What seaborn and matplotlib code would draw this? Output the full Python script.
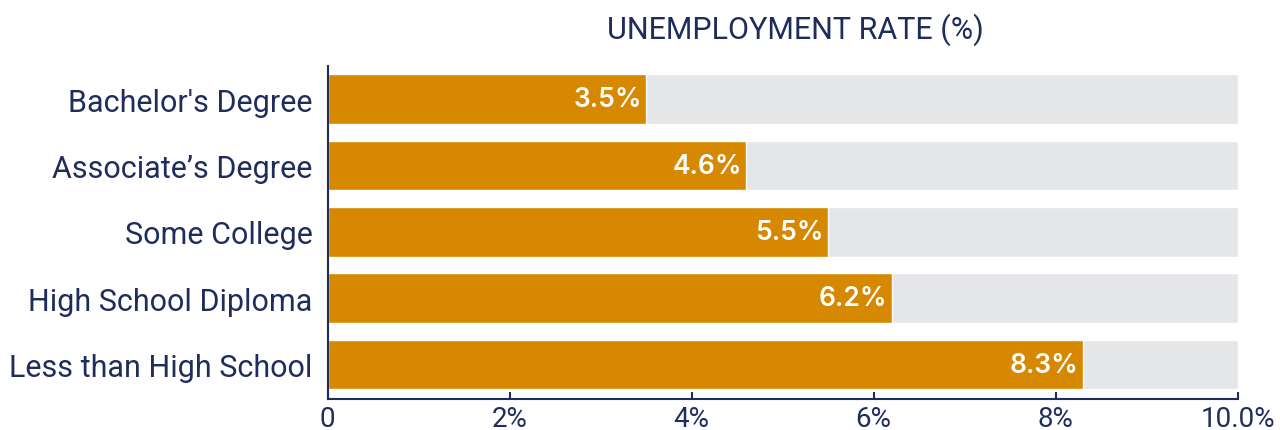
import matplotlib
matplotlib.use("Agg")
import matplotlib.pyplot as plt
import seaborn as sns
import pandas as pd

# ===============================
# Data
# ===============================
categories = [
    "Bachelor's Degree",
    "Associate’s Degree",
    "Some College",
    "High School Diploma",
    "Less than High School",
]
rates = [3.5, 4.6, 5.5, 6.2, 8.3]
axis_max = 10.0
tick_values = [0, 2, 4, 6, 8, 10]
tick_labels = ["0", "2%", "4%", "6%", "8%", "10.0%"]

NAVY = "#1f2d5c"
ORANGE = "#d68800"
TRACK = "#e5e6e8"

df = pd.DataFrame({"education": categories, "rate": rates})
df["track"] = axis_max

sns.set_theme(style="white")
plt.rcParams["font.family"] = ["Roboto", "DejaVu Sans"]

fig = plt.figure(figsize=(12.8, 4.31), dpi=100)
ax = fig.add_axes([0.256, 0.0719, 0.711, 0.7726])

# grey background track, then the value bar on top
sns.barplot(data=df, x="track", y="education", color=TRACK, width=0.75,
            saturation=1, ax=ax)
sns.barplot(data=df, x="rate", y="education", color=ORANGE, width=0.75,
            saturation=1, ax=ax)

for i, v in enumerate(rates):
    ax.text(v - 0.05, i, f"{v:.1f}%", ha="right", va="center",
            color="white", fontsize=19, fontweight="semibold",
            family=["Inter", "DejaVu Sans"])

ax.set_xlim(0, axis_max)
ax.set_ylim(4.52, -0.5)
ax.set_xticks(tick_values)
ax.set_xticklabels(tick_labels)
ax.set_xlabel("")
ax.set_ylabel("")

ax.tick_params(axis="x", colors=NAVY, labelsize=20, length=5, width=1.5,
               direction="in", bottom=True, pad=4)
ax.tick_params(axis="y", colors=NAVY, labelsize=22, length=0, pad=11)

for side in ["top", "right"]:
    ax.spines[side].set_visible(False)
for side in ["left", "bottom"]:
    ax.spines[side].set_color(NAVY)
    ax.spines[side].set_linewidth(1.5)

fig.text(0.621, 0.93, "UNEMPLOYMENT RATE (%)", ha="center", va="center",
         color=NAVY, fontsize=22, fontweight="normal")

fig.savefig("out.png", dpi=100)
